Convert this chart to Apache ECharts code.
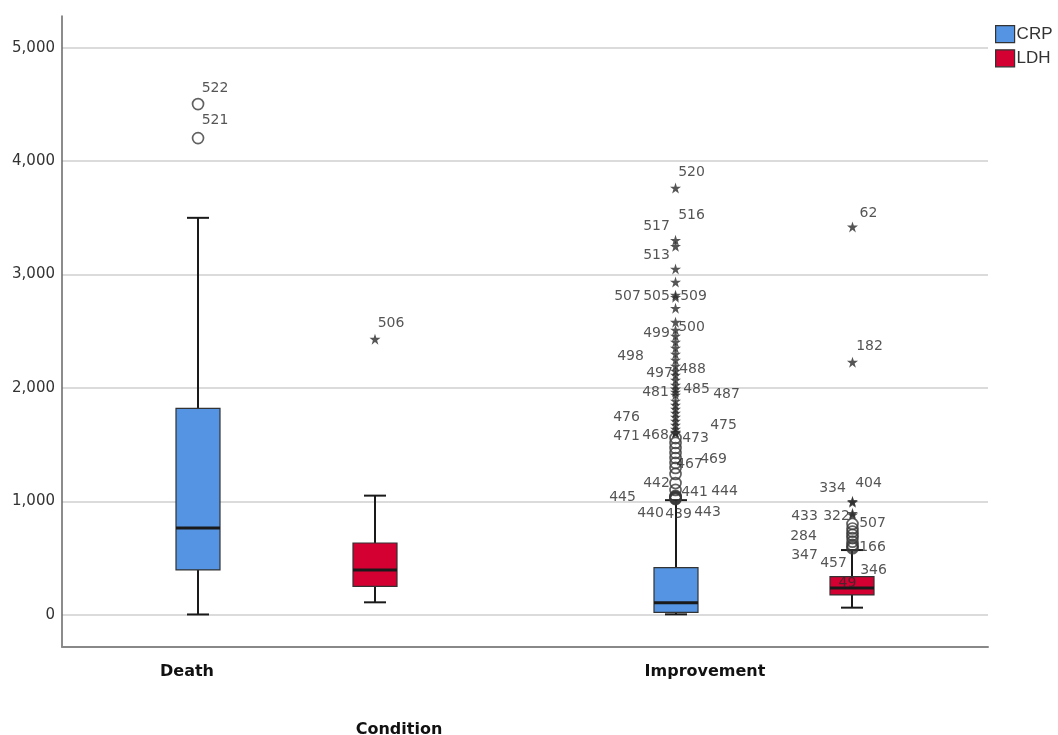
<!DOCTYPE html>
<html><head><meta charset="utf-8">
<script src="https://cdn.jsdelivr.net/npm/echarts@6/dist/echarts.min.js"></script>
<style>html,body{margin:0;padding:0;background:#fff}#c{width:1058px;height:735px}</style>
</head><body><div id="c"></div>
<script>
// ---------------- data ----------------
const categories = ['Death', 'Improvement'];
const seriesNames = ['CRP', 'LDH'];
const xAxisTitle = 'Condition';
const yTicks = [0, 1000, 2000, 3000, 4000, 5000];
// box statistics per category: [lower whisker, Q1, median, Q3, upper whisker]
const crpStats = [[2, 395, 764, 1820, 3500], [3, 21, 106, 415, 1010]];
const ldhStats = [[109, 250, 394, 632, 1050], [62, 174, 235, 335, 570]];
// outliers / extremes: [category index, value, case label]
const crpOutliers = [
  [0, 4503, '522'], [0, 4203, '521'],
  [1, 3763, '520'], [1, 3302, '516'], [1, 3249, '517'], [1, 3049, '513'], [1, 2934, ''],
  [1, 2818, '505'], [1, 2800, '509'], [1, 2703, '507'], [1, 2580, ''], [1, 2511, '500'],
  [1, 2458, '499'], [1, 2405, ''], [1, 2352, '498'], [1, 2299, ''], [1, 2246, ''],
  [1, 2193, ''], [1, 2149, '497'], [1, 2114, '488'], [1, 2070, ''], [1, 2026, ''],
  [1, 1991, '481'], [1, 1964, '485'], [1, 1938, '487'], [1, 1885, ''], [1, 1849, ''],
  [1, 1814, ''], [1, 1779, ''], [1, 1743, '476'], [1, 1708, ''], [1, 1673, '475'],
  [1, 1638, ''], [1, 1610, '468'], [1, 1605, '471'], [1, 1600, '473'],
  [1, 1558, ''], [1, 1514, ''], [1, 1470, ''], [1, 1426, ''], [1, 1382, ''],
  [1, 1338, '467'], [1, 1294, '469'], [1, 1241, ''], [1, 1161, '442'], [1, 1100, ''],
  [1, 1047, '441'], [1, 1040, '444'], [1, 1035, '445'], [1, 1030, '440'],
  [1, 1025, '439'], [1, 1020, '443']
];
const ldhOutliers = [
  [0, 2430, '506'],
  [1, 3420, '62'], [1, 2227, '182'], [1, 1000, '334'], [1, 991, '404'],
  [1, 894, '322'], [1, 880, '433'], [1, 800, '507'], [1, 760, ''], [1, 732, '284'],
  [1, 703, ''], [1, 676, '166'], [1, 644, '347'], [1, 615, '457'], [1, 600, '346'],
  [1, 586, '49']
];

// ---------------- layout / style ----------------
const X_MIN = -0.4702, X_MAX = 1.4691;       // category centres at 0 and 1
const SERIES_SHIFT = [-0.1853, 0.1853];
const LABEL_POS = [-0.2084, 0.8764];          // where the category names sit
const Y_MIN = -285, Y_MAX = 5280;
const BOX_W = 44, CAP_W = 22;
const COLORS = ['#5494E2', '#D40032'];
const FONT = 'DejaVu Sans';
const STAR = 'path://M50,0L61.2,34.5L97.6,34.5L68.2,55.9L79.4,90.5L50,69.1L20.6,90.5L31.8,55.9L2.4,34.5L38.8,34.5Z';
// label offsets (px) of each case label relative to its point
const crpLabelOffsets = {
  '522': [17, -16], '521': [17, -18], '520': [16, -16], '516': [16, -25], '517': [-19, -20],
  '513': [-19, -14], '505': [-19, 1], '509': [18, -1], '507': [-48, -12], '500': [16, -3],
  '499': [-19, -3], '498': [-45, 8], '497': [-16, 2], '488': [17, -6], '481': [-20, 3],
  '485': [21, -3], '487': [51, -1], '476': [-49, 0], '475': [48, 0], '468': [-20, 3],
  '471': [-49, 4], '473': [20, 5], '467': [14, 1], '469': [38, -9], '442': [-19, 0],
  '441': [19, -4], '444': [49, -5], '445': [-53, 0], '440': [-25, 15], '439': [3, 16],
  '443': [32, 13]
};
const ldhLabelOffsets = {
  '506': [16, -16], '62': [16, -14], '182': [17, -16], '334': [-20, -13], '404': [16, -19],
  '322': [-16, 3], '433': [-48, 1], '507': [20, -1], '284': [-49, 5], '166': [20, 9],
  '347': [-48, 14], '457': [-19, 18], '346': [21, 24], '49': [-5, 35]
};

function boxRows(stats, si) {
  return stats.map((s, ci) => [ci + SERIES_SHIFT[si]].concat(s));
}
function makeRender(color) {
  return function (params, api) {
    const x = api.value(0);
    const lo = api.coord([x, api.value(1)]);
    const q1 = api.coord([x, api.value(2)]);
    const md = api.coord([x, api.value(3)]);
    const q3 = api.coord([x, api.value(4)]);
    const hi = api.coord([x, api.value(5)]);
    const cx = Math.round(lo[0]);
    const hw = BOX_W / 2, cw = CAP_W / 2;
    const ln = (x1, y1, x2, y2, w) => ({ type: 'line', shape: { x1, y1, x2, y2 }, style: { stroke: '#1a1a1a', lineWidth: w } });
    return {
      type: 'group', children: [
        ln(cx, hi[1], cx, q3[1], 2),
        ln(cx, q1[1], cx, lo[1], 2),
        ln(cx - cw, hi[1], cx + cw, hi[1], 2),
        ln(cx - cw, lo[1], cx + cw, lo[1], 2),
        { type: 'rect', shape: { x: cx - hw, y: q3[1], width: BOX_W, height: q1[1] - q3[1] },
          style: { fill: color, stroke: '#333', lineWidth: 1.2 } },
        ln(cx - hw, md[1], cx + hw, md[1], 3)
      ]
    };
  };
}
function outlierData(list, stats, offsets, si) {
  return list.map(([ci, v, id]) => {
    const s = stats[ci];
    const extreme = v > s[3] + 3 * (s[3] - s[1]);
    return {
      value: [ci + SERIES_SHIFT[si], v],
      symbol: extreme ? STAR : 'circle',
      symbolSize: extreme ? 11 : 11,
      itemStyle: extreme ? { color: '#2a2a2a', borderWidth: 0 }
                         : { color: 'rgba(255,255,255,0)', borderColor: '#3a3a3a', borderWidth: 1.7 },
      label: id ? { show: true, formatter: id, offset: offsets[id] || [16, -16] } : { show: false }
    };
  });
}
const statsList = [crpStats, ldhStats];
const outList = [crpOutliers, ldhOutliers];
const offList = [crpLabelOffsets, ldhLabelOffsets];

const series = [];
seriesNames.forEach((name, si) => {
  series.push({
    name, type: 'custom', renderItem: makeRender(COLORS[si]), clip: false, z: 2,
    itemStyle: { color: COLORS[si] },
    encode: { x: 0, y: [1, 2, 3, 4, 5] },
    data: boxRows(statsList[si], si)
  });
});
seriesNames.forEach((name, si) => {
  series.push({
    name, type: 'scatter', z: 3, clip: false,
    label: { position: 'inside', color: '#2b2b2b', fontFamily: FONT, fontSize: 14 },
    emphasis: { disabled: true },
    data: outlierData(outList[si], statsList[si], offList[si], si)
  });
});

const chart = echarts.init(document.getElementById('c'), null, { renderer: 'canvas' });
chart.setOption({
  animation: false,
  backgroundColor: '#fff',
  grid: { left: 62, right: 70, top: 16, bottom: 88, containLabel: false, outerBoundsMode: 'none' },
  legend: {
    orient: 'vertical', left: 990, top: 20, itemWidth: 19, itemHeight: 17, itemGap: 6,
    icon: 'rect', selectedMode: false,
    textStyle: { fontFamily: 'Liberation Sans', fontSize: 17, color: '#333', padding: [0, 0, 0, -3] },
    data: seriesNames.map((n, i) => ({ name: n, itemStyle: { color: COLORS[i], borderColor: '#333', borderWidth: 1.2 } }))
  },
  xAxis: {
    type: 'value', min: X_MIN, max: X_MAX,
    axisLine: { show: true, onZero: false, lineStyle: { color: '#888', width: 2 } },
    axisTick: { show: false, customValues: LABEL_POS },
    splitLine: { show: false },
    axisLabel: {
      customValues: LABEL_POS, margin: 17,
      formatter: v => {
        let best = 0;
        LABEL_POS.forEach((p, i) => { if (Math.abs(p - v) < Math.abs(LABEL_POS[best] - v)) best = i; });
        return categories[best];
      },
      fontFamily: FONT, fontWeight: 'bold', fontSize: 16, color: '#111'
    },
    name: xAxisTitle, nameLocation: 'middle', nameGap: 75,
    nameTextStyle: { fontFamily: FONT, fontWeight: 'bold', fontSize: 16, color: '#111', padding: [0, 252, 0, 0] }
  },
  yAxis: {
    type: 'value', min: Y_MIN, max: Y_MAX,
    axisLine: { show: true, onZero: false, lineStyle: { color: '#666', width: 1.5 } },
    axisTick: { show: false, customValues: yTicks },
    splitLine: { show: true, lineStyle: { color: '#cfcfcf', width: 1.5 } },
    axisLabel: {
      customValues: yTicks, margin: 7,
      formatter: v => Number(v).toLocaleString('en-US'),
      fontFamily: FONT, fontSize: 15, color: '#333'
    }
  },
  series
});
</script></body></html>
